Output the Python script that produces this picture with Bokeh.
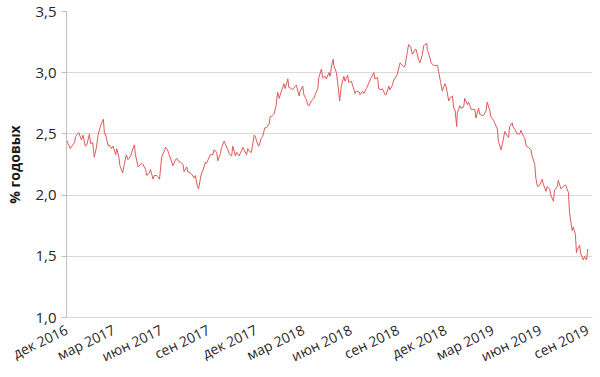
import numpy as np
import pandas as pd
from bokeh.plotting import figure
from bokeh.models import ColumnDataSource, Range1d, FixedTicker
from bokeh.embed import file_html
from bokeh.resources import INLINE

# ---- data ----
dates_2017 = ["2017-01-03", "2017-01-06", "2017-01-10", "2017-01-13", "2017-01-18", "2017-01-20",
              "2017-01-26", "2017-01-31", "2017-02-03", "2017-02-07", "2017-02-10", "2017-02-15",
              "2017-02-17", "2017-02-21", "2017-02-24", "2017-02-28", "2017-03-03", "2017-03-08",
              "2017-03-13", "2017-03-15", "2017-03-17", "2017-03-22", "2017-03-24", "2017-03-28",
              "2017-03-31", "2017-04-05", "2017-04-07", "2017-04-11", "2017-04-13", "2017-04-18",
              "2017-04-21", "2017-04-25", "2017-04-28", "2017-05-03", "2017-05-05", "2017-05-10",
              "2017-05-12", "2017-05-17", "2017-05-19", "2017-05-24", "2017-05-26", "2017-05-31",
              "2017-06-02", "2017-06-07", "2017-06-09", "2017-06-14", "2017-06-16", "2017-06-21",
              "2017-06-23", "2017-06-26", "2017-06-30", "2017-07-06", "2017-07-07", "2017-07-11",
              "2017-07-14", "2017-07-19", "2017-07-21", "2017-07-26", "2017-07-28", "2017-08-02",
              "2017-08-04", "2017-08-09", "2017-08-11", "2017-08-16", "2017-08-18", "2017-08-23",
              "2017-08-25", "2017-08-30", "2017-09-01", "2017-09-05", "2017-09-07", "2017-09-12",
              "2017-09-15", "2017-09-20", "2017-09-22", "2017-09-27", "2017-09-29", "2017-10-04",
              "2017-10-06", "2017-10-11", "2017-10-13", "2017-10-18", "2017-10-20", "2017-10-25",
              "2017-10-27", "2017-11-01", "2017-11-03", "2017-11-08", "2017-11-10", "2017-11-15",
              "2017-11-17", "2017-11-22", "2017-11-24", "2017-11-29", "2017-12-01", "2017-12-06",
              "2017-12-08", "2017-12-13", "2017-12-15", "2017-12-20", "2017-12-22", "2017-12-27",
              "2017-12-29"]
yields_2017 = [2.45, 2.42, 2.38, 2.40, 2.43, 2.48,
               2.51, 2.45, 2.49, 2.40, 2.41, 2.50,
               2.42, 2.43, 2.31, 2.39, 2.49, 2.57,
               2.62, 2.50, 2.50, 2.40, 2.41, 2.38,
               2.40, 2.33, 2.38, 2.31, 2.24, 2.18,
               2.25, 2.33, 2.29, 2.32, 2.35, 2.41,
               2.33, 2.23, 2.24, 2.26, 2.25, 2.21,
               2.16, 2.18, 2.21, 2.13, 2.16, 2.16,
               2.15, 2.13, 2.31, 2.37, 2.39, 2.37,
               2.33, 2.27, 2.24, 2.29, 2.30, 2.27,
               2.27, 2.25, 2.19, 2.23, 2.19, 2.18,
               2.17, 2.14, 2.16, 2.07, 2.05, 2.17,
               2.20, 2.27, 2.26, 2.31, 2.33, 2.33,
               2.37, 2.35, 2.28, 2.34, 2.39, 2.44,
               2.42, 2.37, 2.34, 2.32, 2.40, 2.32,
               2.35, 2.32, 2.34, 2.39, 2.37, 2.33,
               2.38, 2.35, 2.35, 2.49, 2.48, 2.41,
               2.40]

dates_2018 = ["2018-01-02", "2018-01-05", "2018-01-09", "2018-01-12", "2018-01-17", "2018-01-19",
              "2018-01-24", "2018-01-26", "2018-01-30", "2018-02-02", "2018-02-05", "2018-02-09",
              "2018-02-14", "2018-02-16", "2018-02-21", "2018-02-23", "2018-02-28", "2018-03-02",
              "2018-03-07", "2018-03-09", "2018-03-14", "2018-03-16", "2018-03-21", "2018-03-23",
              "2018-03-28", "2018-03-30", "2018-04-02", "2018-04-06", "2018-04-11", "2018-04-13",
              "2018-04-18", "2018-04-20", "2018-04-25", "2018-04-27", "2018-05-02", "2018-05-04",
              "2018-05-09", "2018-05-11", "2018-05-15", "2018-05-17", "2018-05-18", "2018-05-23",
              "2018-05-25", "2018-05-29", "2018-06-01", "2018-06-06", "2018-06-08", "2018-06-13",
              "2018-06-15", "2018-06-20", "2018-06-22", "2018-06-27", "2018-06-29", "2018-07-05",
              "2018-07-06", "2018-07-11", "2018-07-13", "2018-07-18", "2018-07-20", "2018-07-25",
              "2018-07-27", "2018-08-01", "2018-08-03", "2018-08-08", "2018-08-10", "2018-08-15",
              "2018-08-17", "2018-08-22", "2018-08-24", "2018-08-29", "2018-08-31", "2018-09-05",
              "2018-09-07", "2018-09-12", "2018-09-14", "2018-09-19", "2018-09-21", "2018-09-26",
              "2018-09-28", "2018-10-03", "2018-10-05", "2018-10-09", "2018-10-12", "2018-10-17",
              "2018-10-19", "2018-10-24", "2018-10-26", "2018-10-31", "2018-11-02", "2018-11-08",
              "2018-11-09", "2018-11-14", "2018-11-16", "2018-11-21", "2018-11-23", "2018-11-28",
              "2018-11-30", "2018-12-04", "2018-12-07", "2018-12-12", "2018-12-14", "2018-12-19",
              "2018-12-21", "2018-12-26", "2018-12-28", "2018-12-31"]
yields_2018 = [2.46, 2.48, 2.55, 2.55, 2.58, 2.64,
               2.65, 2.66, 2.73, 2.84, 2.79, 2.85,
               2.91, 2.87, 2.95, 2.88, 2.87, 2.86,
               2.89, 2.90, 2.81, 2.85, 2.89, 2.82,
               2.78, 2.74, 2.73, 2.77, 2.79, 2.82,
               2.87, 2.96, 3.03, 2.96, 2.97, 2.95,
               3.00, 2.97, 3.08, 3.11, 3.06, 3.00,
               2.93, 2.77, 2.89, 2.97, 2.93, 2.98,
               2.92, 2.93, 2.90, 2.83, 2.85, 2.84,
               2.82, 2.85, 2.83, 2.87, 2.89, 2.94,
               2.96, 3.00, 2.95, 2.96, 2.87, 2.86,
               2.87, 2.82, 2.82, 2.89, 2.86, 2.90,
               2.94, 2.97, 2.99, 3.08, 3.07, 3.05,
               3.05, 3.18, 3.23, 3.21, 3.15, 3.19,
               3.19, 3.10, 3.08, 3.15, 3.22, 3.24,
               3.19, 3.12, 3.08, 3.06, 3.06, 3.06,
               3.01, 2.92, 2.85, 2.91, 2.89, 2.77,
               2.79, 2.81, 2.72, 2.69]

dates_2019 = ["2019-01-03", "2019-01-04", "2019-01-09", "2019-01-11", "2019-01-16", "2019-01-18",
              "2019-01-23", "2019-01-25", "2019-01-30", "2019-02-01", "2019-02-06", "2019-02-08",
              "2019-02-13", "2019-02-15", "2019-02-20", "2019-02-22", "2019-02-27", "2019-03-01",
              "2019-03-06", "2019-03-08", "2019-03-13", "2019-03-15", "2019-03-20", "2019-03-22",
              "2019-03-27", "2019-03-29", "2019-04-03", "2019-04-05", "2019-04-10", "2019-04-12",
              "2019-04-17", "2019-04-18", "2019-04-24", "2019-04-26", "2019-05-01", "2019-05-03",
              "2019-05-08", "2019-05-10", "2019-05-13", "2019-05-17", "2019-05-22", "2019-05-24",
              "2019-05-29", "2019-05-31", "2019-06-03", "2019-06-07", "2019-06-12", "2019-06-14",
              "2019-06-19", "2019-06-21", "2019-06-26", "2019-06-28", "2019-07-03", "2019-07-05",
              "2019-07-10", "2019-07-12", "2019-07-17", "2019-07-19", "2019-07-24", "2019-07-26",
              "2019-07-31", "2019-08-02", "2019-08-07", "2019-08-09", "2019-08-13", "2019-08-15",
              "2019-08-16", "2019-08-21", "2019-08-23", "2019-08-28", "2019-08-30", "2019-09-03",
              "2019-09-05"]
yields_2019 = [2.56, 2.67, 2.73, 2.71, 2.72, 2.79,
               2.74, 2.76, 2.70, 2.70, 2.70, 2.63,
               2.71, 2.66, 2.65, 2.65, 2.69, 2.76,
               2.69, 2.64, 2.61, 2.59, 2.54, 2.44,
               2.37, 2.41, 2.52, 2.50, 2.47, 2.56,
               2.59, 2.56, 2.52, 2.50, 2.50, 2.53,
               2.48, 2.47, 2.40, 2.39, 2.37, 2.32,
               2.25, 2.14, 2.07, 2.08, 2.13, 2.09,
               2.03, 2.07, 2.05, 2.00, 1.95, 2.04,
               2.07, 2.12, 2.05, 2.06, 2.08, 2.08,
               2.02, 1.86, 1.71, 1.74, 1.68, 1.53,
               1.55, 1.59, 1.52, 1.47, 1.50, 1.47,
               1.56]

x_tick_labels = ["дек 2016", "мар 2017", "июн 2017", "сен 2017", "дек 2017", "мар 2018",
                 "июн 2018", "сен 2018", "дек 2018", "мар 2019", "июн 2019", "сен 2019"]
y_ticks = [1.0, 1.5, 2.0, 2.5, 3.0, 3.5]
y_tick_labels = ["1,0", "1,5", "2,0", "2,5", "3,0", "3,5"]
y_title = "% годовых"

# ---- build ----
dates = pd.to_datetime(dates_2017 + dates_2018 + dates_2019)
values = yields_2017 + yields_2018 + yields_2019
src = ColumnDataSource(dict(x=dates, y=values))

DAY = 86400000
start_ms = int(dates[0].value // 10**6)
end_ms = int(dates[-1].value // 10**6)
tick_ms = [int(round(v)) for v in np.linspace(start_ms, end_ms, len(x_tick_labels))]

p = figure(width=600, height=377, x_axis_type="datetime",
           output_backend="svg", toolbar_location=None,
           x_range=Range1d(start_ms, end_ms + 9 * DAY),
           y_range=Range1d(1.0, 3.5),
           min_border_left=66, min_border_right=8, min_border_top=11, min_border_bottom=60)
p.outline_line_color = None
p.background_fill_color = "white"

p.line("x", "y", source=src, line_color="#dd5a5a", line_width=1)

font = "Open Sans"
# x axis
p.xaxis.ticker = FixedTicker(ticks=tick_ms)
p.xaxis.major_label_overrides = dict(zip(tick_ms, x_tick_labels))
p.xaxis.major_label_orientation = 0.45
p.xaxis.major_tick_line_color = None
p.xaxis.minor_tick_line_color = None
p.xaxis.axis_line_color = "#d9d9d9"
p.xaxis.major_label_text_font = font
p.xaxis.major_label_text_font_size = "14px"
p.xaxis.major_label_text_color = "#262626"
p.xaxis.major_label_standoff = 5
p.xgrid.visible = False

# y axis
p.yaxis.ticker = FixedTicker(ticks=y_ticks)
p.yaxis.major_label_overrides = dict(zip(y_ticks, y_tick_labels))
p.yaxis.axis_line_color = "#bfbfbf"
p.yaxis.major_tick_line_color = "#bfbfbf"
p.yaxis.major_tick_out = 5
p.yaxis.major_tick_in = 0
p.yaxis.minor_tick_line_color = None
p.yaxis.major_label_text_font = font
p.yaxis.major_label_text_font_size = "15px"
p.yaxis.major_label_text_color = "#262626"
p.yaxis.major_label_standoff = 5
p.yaxis.axis_label = y_title
p.yaxis.axis_label_text_font = font
p.yaxis.axis_label_text_font_style = "bold"
p.yaxis.axis_label_text_font_size = "14px"
p.yaxis.axis_label_text_color = "#1a1a1a"
p.yaxis.axis_label_standoff = 8
p.ygrid.grid_line_color = "#d9d9d9"

open("out.html", "w").write(file_html(p, INLINE))
